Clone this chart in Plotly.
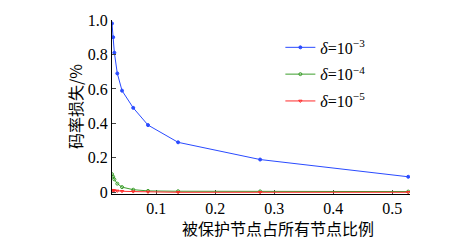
import plotly.graph_objects as go

x_ratio = [0.025, 0.027, 0.029, 0.034, 0.042, 0.061, 0.086, 0.137, 0.276, 0.527]
loss_1e3 = [0.98, 0.90, 0.81, 0.69, 0.59, 0.49, 0.39, 0.29, 0.19, 0.09]
loss_1e4 = [0.105, 0.09, 0.075, 0.05, 0.03, 0.015, 0.008, 0.006, 0.005, 0.004]
loss_1e5 = [0.012, 0.011, 0.010, 0.008, 0.006, 0.004, 0.002, 0.0, 0.0, 0.0]
names = ["<i>δ</i>=10<sup>−3</sup>", "<i>δ</i>=10<sup>−4</sup>", "<i>δ</i>=10<sup>−5</sup>"]
colors = ["#2a4bff", "#3c9e2c", "#ff2a2a"]
symbols = ["circle", "circle-open", "triangle-down-open"]

x_ticks = [0.1, 0.2, 0.3, 0.4, 0.5]
x_ticktext = ["0.1", "0.2", "0.3", "0.4", "0.5"]
y_ticks = [0, 0.2, 0.4, 0.6, 0.8, 1.0]
y_ticktext = ["0", "0.2", "0.4", "0.6", "0.8", "1.0"]

fig = go.Figure()
for i, (ys, nm, c, s) in enumerate(zip([loss_1e3, loss_1e4, loss_1e5], names, colors, symbols)):
    fig.add_trace(go.Scatter(
        x=x_ratio, y=ys, name=nm, mode="lines+markers", legendgroup=f"g{i}",
        line=dict(color=c, width=1),
        marker=dict(color=c, size=3, symbol=s, line=dict(color=c, width=1)),
    ))

font_serif = "Liberation Serif"
fig.update_layout(
    width=472, height=244,
    margin=dict(l=112, r=62, t=12, b=50),
    paper_bgcolor="white", plot_bgcolor="white",
    font=dict(family=font_serif, size=15, color="black"),
    showlegend=True,
    legend=dict(x=0.565, y=0.94, xanchor="left", yanchor="top",
                bgcolor="rgba(0,0,0,0)", font=dict(size=16, family=font_serif),
                itemwidth=30, tracegroupgap=3),
    xaxis=dict(range=[0.025, 0.53], tickvals=x_ticks, ticktext=x_ticktext,
               ticks="inside", ticklen=4, tickcolor="#444", showgrid=False,
               zeroline=False, showline=True, linecolor="black", linewidth=1,
               layer="below traces", tickfont=dict(size=16, family=font_serif)),
    yaxis=dict(range=[-0.01, 1.0], tickvals=y_ticks, ticktext=y_ticktext,
               ticks="inside", ticklen=4, tickcolor="#444", showgrid=False,
               zeroline=False, showline=True, linecolor="black", linewidth=1,
               ticklabeloverflow="allow",
               tickfont=dict(size=16, family=font_serif)),
    annotations=[
        dict(text="被保护节点占所有节点比例", xref="paper", yref="paper",
             x=(278 - 112) / 298, y=(194 - 230) / 182, xanchor="center", yanchor="middle",
             showarrow=False, font=dict(family="Noto Sans CJK SC", size=16)),
        dict(text="码率损失/%", xref="paper", yref="paper",
             x=(75 - 112) / 298, y=0.5, xanchor="center", yanchor="middle",
             textangle=-90, showarrow=False,
             font=dict(family="Noto Sans CJK SC", size=16)),
    ],
)

fig.write_html("out.html", config={"displayModeBar": False},
               post_script="document.body.style.margin='0';")
